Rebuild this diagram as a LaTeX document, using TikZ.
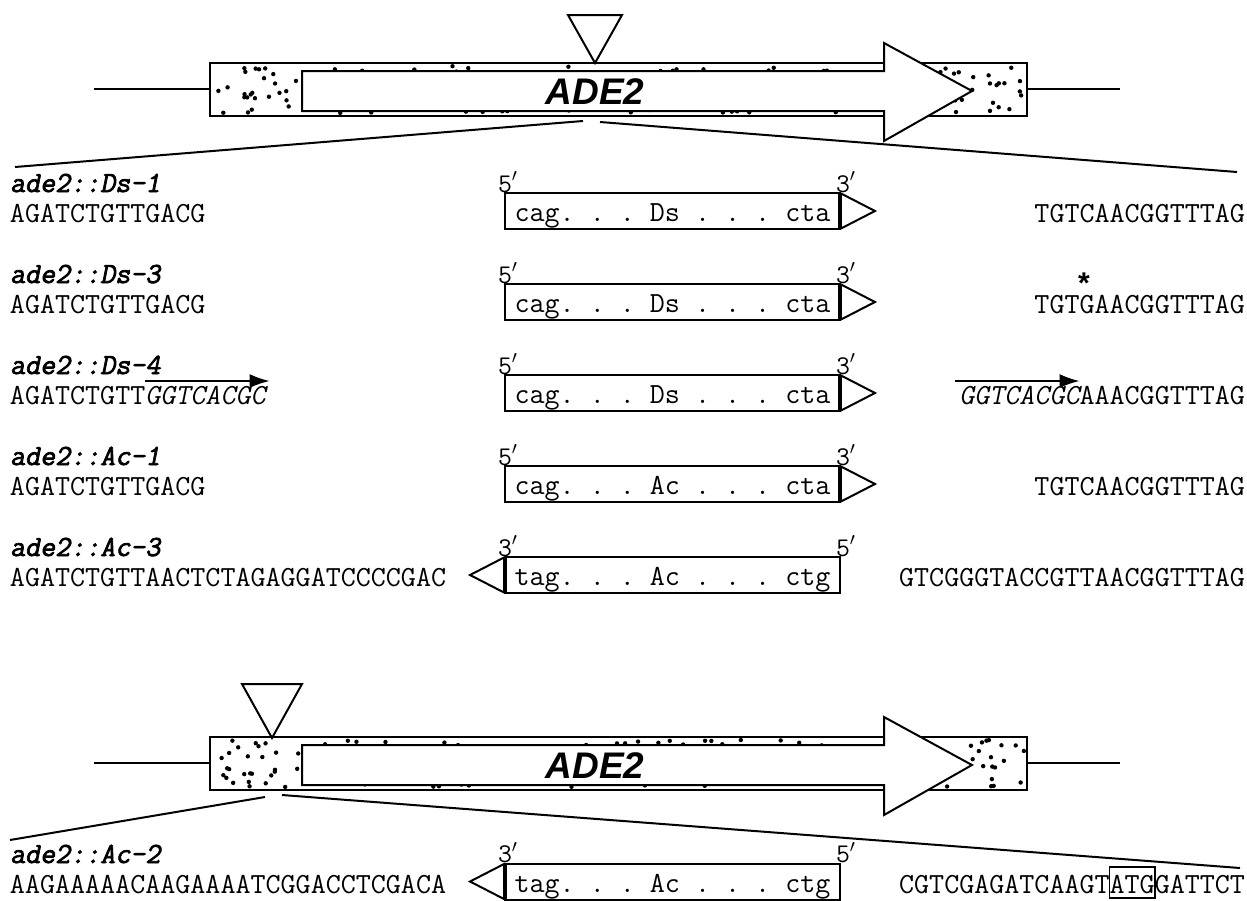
\documentclass[tikz,border=0pt]{standalone}
\usepackage{fontspec}
\newfontfamily\genefont{Liberation Sans}
\newfontfamily\lblfont{Latin Modern Mono}[FakeBold=2.5,FakeSlant=0.2]
\newfontfamily\oblfont{Latin Modern Mono}[FakeSlant=0.2]
\usepackage{tikz}
\usetikzlibrary{arrows.meta,positioning}

\begin{document}
\begin{tikzpicture}[
    x=0.5pt, y=-0.5pt,
    every node/.style={inner sep=0pt, outer sep=0pt},
    seq/.style={font=\ttfamily\fontsize{14.6}{16}\selectfont, anchor=base west},
    seqit/.style={seq, font=\oblfont\fontsize{14.6}{16}\selectfont},
    lbl/.style={font=\lblfont\fontsize{14.6}{16}\selectfont, anchor=base west},
    primelbl/.style={font=\ttfamily\fontsize{13.5}{14}\selectfont},
    tebox/.style={draw, line width=1pt, minimum width=167.5pt, minimum height=18pt,
        text height=10.5pt, text depth=0pt,
        font=\ttfamily\fontsize{14.6}{18}\selectfont\frenchspacing},
    genebox/.style={draw, line width=1pt, line join=miter},
    leader/.style={line width=1pt},
    dup/.style={-{Latex[length=10pt,width=7pt]}, line width=1pt}
]
\useasboundingbox (0,0) rectangle (1247,900);
\pgfmathsetseed{12}

% the two ADE2 maps
\foreach \dy in {0,674} {
  \begin{scope}[shift={(0,\dy)}]
    \draw[leader] (94,89) -- (210,89);
    \draw[leader] (1027,89) -- (1120,89);
    \foreach \k in {1,...,230}
      \fill ({213+811*rnd},{66+47*rnd}) circle[radius=1.1pt];
    \draw[genebox] (210,63) rectangle (1027,116);
    \draw[genebox, fill=white] (302,71) -- (884,71) -- (884,43) -- (972,91)
        -- (884,141) -- (884,111) -- (302,111) -- cycle;
    \node[font=\genefont\bfseries\itshape\fontsize{18.5}{20}\selectfont] (gene\dy) at (595,91.5) {ADE2};
  \end{scope}
}
% insertion sites
\draw[genebox, fill=white] (568,15) -- (622,15) -- (595,63) -- cycle;
\draw[genebox, fill=white] (242,684) -- (302,684) -- (272,738) -- cycle;
\draw[leader] (583,121) -- (15,167);
\draw[leader] (600,122) -- (1237,172);
\draw[leader] (265,797) -- (10,840);
\draw[leader] (282,795) -- (1240,868);

% allele names
\foreach \r/\lab in {1/Ds-1,2/Ds-3,3/Ds-4,4/Ac-1,5/Ac-3}
  \node[lbl] (lab\r) at (10,{192+91*(\r-1)}) {ade2::\lab};
\node[lbl] (lab6) at (10,863) {ade2::Ac-2};

% elements in forward orientation
\foreach \r/\te in {1/Ds,2/Ds,3/Ds,4/Ac} {
  \node[tebox] (box\r) at (672.5,{211+91*(\r-1)}) {cag. . . \te{} . . . cta};
  \draw[line width=2pt] (box\r.north east) -- (box\r.south east);
  \draw[genebox] (box\r.north east) -- ([xshift=17.5pt]box\r.east) -- (box\r.south east);
  \node[primelbl, anchor=base west] (five\r) at ([xshift=-3.5pt,yshift=0.5pt]box\r.north west) {5$'$};
  \node[primelbl, anchor=base] (three\r) at ([xshift=3pt,yshift=0.5pt]box\r.north east) {3$'$};
}
% elements in reverse orientation
\node[tebox] (box5) at (672.5,575) {tag. . . Ac . . . ctg};
\node[tebox] (box6) at (672.5,881.5) {tag. . . Ac . . . ctg};
\foreach \b in {box5,box6} {
  \draw[line width=2pt] (\b.north west) -- (\b.south west);
  \draw[genebox] (\b.north west) -- ([xshift=-17.5pt]\b.west) -- (\b.south west);
  \node[primelbl, anchor=base west] at ([xshift=-3.5pt,yshift=0.5pt]\b.north west) {3$'$};
  \node[primelbl, anchor=base] at ([xshift=3pt,yshift=0.5pt]\b.north east) {5$'$};
}

% flanking sequences
\node[seq] (left1) at (10,222) {AGATCTGTTGACG};
\node[seq, anchor=base east] (right1) at (1245,222) {TGTCAACGGTTTAG};
\node[seq] (left2) at (10,313) {AGATCTGTTGACG};
\node[seq, anchor=base east] (right2) at (1245,313) {TGTGAACGGTTTAG};
\node[font=\genefont\bfseries\fontsize{15}{15}\selectfont, anchor=base] (ast) at (1084,293) {*};
\node[seq] (left3a) at (10,404) {AGATCTGTT};
\node[seqit, base right=0pt of left3a] (left3b) {GGTCACGC};
\node[seq, anchor=base east] (right3b) at (1245,404) {AAACGGTTTAG};
\node[seqit, base left=0pt of right3b] (right3a) {GGTCACGC};
\draw[dup] ([yshift=11.5pt]left3b.base west) -- ([yshift=11.5pt,xshift=2pt]left3b.base east);
\draw[dup] ([yshift=11.5pt,xshift=-2pt]right3a.base west) -- ([yshift=11.5pt]right3a.base east);
\node[seq] (left4) at (10,495) {AGATCTGTTGACG};
\node[seq, anchor=base east] (right4) at (1245,495) {TGTCAACGGTTTAG};
\node[seq] (left5) at (10,586) {AGATCTGTTAACTCTAGAGGATCCCCGAC};
\node[seq, anchor=base east] (right5) at (1245,586) {GTCGGGTACCGTTAACGGTTTAG};
\node[seq] (left6) at (10,893) {AAGAAAAACAAGAAAATCGGACCTCGACA};
\node[seq, anchor=base east] (right6c) at (1245,893) {GATTCT};
\node[seq, draw, line width=0.8pt, text height=13pt, text depth=2.5pt, base left=0pt of right6c] (atg) {ATG};
\node[seq, base left=0pt of atg] (right6a) {CGTCGAGATCAAGT};
\end{tikzpicture}
\end{document}
